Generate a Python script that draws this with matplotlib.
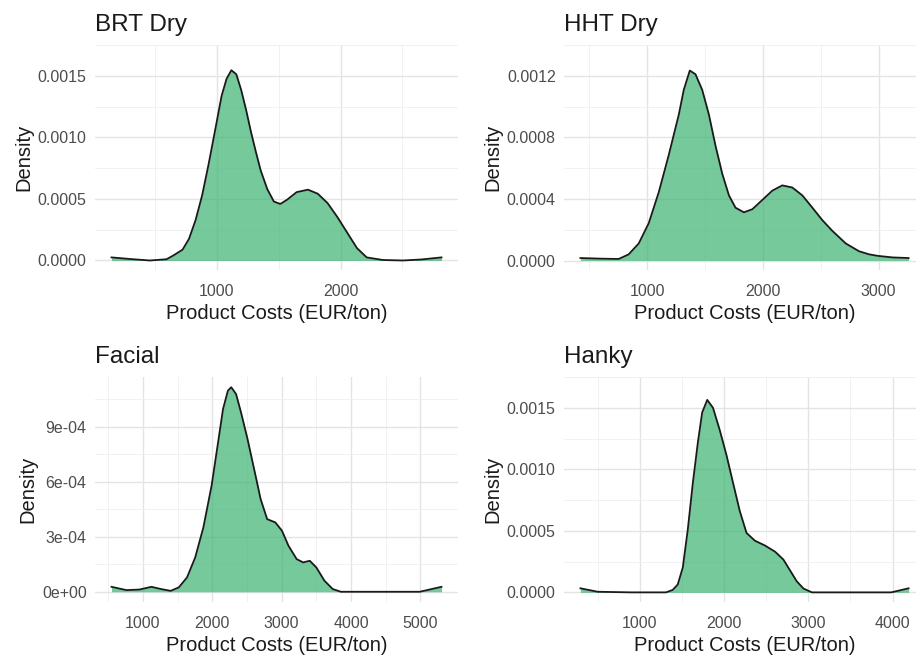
import matplotlib
matplotlib.use("Agg")
from matplotlib import pyplot as plt

plt.rcParams['font.family'] = ['Liberation Sans', 'DejaVu Sans']

panel_titles = ['BRT Dry', 'HHT Dry', 'Facial', 'Hanky']

# density curves (x in EUR/ton, y density)
brt_x = [150, 300, 460, 594, 645, 724, 776, 829, 882, 934, 987, 1039, 1079,
         1118, 1158, 1197, 1237, 1276, 1316, 1355, 1408, 1461, 1513, 1566,
         1645, 1737, 1816, 1895, 1974, 2053, 2132, 2211, 2341, 2503, 2650,
         2815]
brt_y = [0.000025, 0.000012, 0.0, 0.00001, 0.000038, 0.000088, 0.000176,
         0.000328, 0.000529, 0.000781, 0.001059, 0.001336, 0.001475,
         0.001545, 0.001512, 0.001386, 0.001223, 0.001046, 0.000882,
         0.000731, 0.00058, 0.000479, 0.000459, 0.000492, 0.000555,
         0.000575, 0.000542, 0.000466, 0.000353, 0.000227, 0.000101,
         0.000025, 0.000004, 0.0, 0.000008, 0.000025]

hht_x = [424, 600, 755, 841, 928, 1014, 1101, 1187, 1274, 1317, 1369, 1418,
         1476, 1534, 1591, 1649, 1707, 1764, 1836, 1909, 1995, 2082, 2168,
         2255, 2341, 2428, 2514, 2601, 2716, 2831, 2918, 2994, 3120, 3259]
hht_y = [0.000016, 0.000012, 0.00001, 0.00004, 0.000111, 0.000242,
         0.000444, 0.000685, 0.000948, 0.001109, 0.001234, 0.00121,
         0.001109, 0.000948, 0.000746, 0.000565, 0.000423, 0.000343,
         0.000313, 0.000333, 0.000393, 0.000454, 0.000488, 0.000474,
         0.000423, 0.000343, 0.000262, 0.000192, 0.000111, 0.00006,
         0.00004, 0.00003, 0.00002, 0.000016]

facial_x = [549, 765, 950, 1125, 1260, 1401, 1519, 1637, 1755, 1873, 1991,
            2085, 2156, 2226, 2274, 2344, 2415, 2509, 2604, 2698, 2792, 2910,
            3005, 3099, 3217, 3311, 3406, 3500, 3618, 3736, 3854, 4030, 4500,
            4991, 5304]
facial_y = [0.000027, 0.000009, 0.000012, 0.000027, 0.000015, 0.000005,
            0.000024, 0.000078, 0.000187, 0.000351, 0.000578, 0.000815,
            0.000996, 0.001096, 0.001115, 0.001078, 0.000978, 0.000833,
            0.000669, 0.000505, 0.000396, 0.000378, 0.000333, 0.000251,
            0.000178, 0.00016, 0.000169, 0.000133, 0.00006, 0.000015, 0.0,
            0.0, 0.0, 0.0, 0.000027]

hanky_x = [296, 501, 900, 1312, 1391, 1451, 1511, 1570, 1630, 1690, 1741,
           1801, 1869, 1948, 2028, 2107, 2187, 2267, 2366, 2485, 2605, 2704,
           2784, 2864, 2943, 3043, 3500, 3984, 4190]
hanky_y = [0.000033, 0.000005, 0.0, 0.0, 0.00002, 0.000064, 0.000203,
           0.000509, 0.00089, 0.00122, 0.001462, 0.001564, 0.0015, 0.001322,
           0.001119, 0.00089, 0.000661, 0.000483, 0.00042, 0.000381,
           0.000331, 0.000267, 0.000178, 0.000089, 0.000031, 0.0, 0.0, 0.0,
           0.000033]

curves_x = [brt_x, hht_x, facial_x, hanky_x]
curves_y = [brt_y, hht_y, facial_y, hanky_y]

x_major = [[1000, 2000], [1000, 2000, 3000],
           [1000, 2000, 3000, 4000, 5000], [1000, 2000, 3000, 4000]]
x_minor = [[500, 1500, 2500], [500, 1500, 2500],
           [500, 1500, 2500, 3500, 4500], [500, 1500, 2500, 3500]]
y_major = [[0, 0.0005, 0.0010, 0.0015], [0, 0.0004, 0.0008, 0.0012],
           [0, 0.0003, 0.0006, 0.0009], [0, 0.0005, 0.0010, 0.0015]]
y_labels = [['0.0000', '0.0005', '0.0010', '0.0015'],
            ['0.0000', '0.0004', '0.0008', '0.0012'],
            ['0e+00', '3e-04', '6e-04', '9e-04'],
            ['0.0000', '0.0005', '0.0010', '0.0015']]

fig = plt.figure(figsize=(9.16, 6.56), dpi=100)
W, H = 916, 656
# axes boxes in pixels: left, top, right, bottom
boxes = [(95, 45, 458, 270), (564, 45, 925, 270),
         (95, 377, 458, 602), (564, 377, 925, 602)]

for i, (l, t, r, b) in enumerate(boxes):
    ax = fig.add_axes([l / W, 1 - b / H, (r - l) / W, (b - t) / H])
    xs, ys = curves_x[i], curves_y[i]
    ax.fill_between(xs, ys, 0, color='mediumseagreen', alpha=0.7, lw=0)
    ax.plot(xs, ys, color='#1a1a1a', lw=1.3, solid_joinstyle='round')

    xpad = 0.05 * (max(xs) - min(xs))
    ax.set_xlim(min(xs) - xpad, max(xs) + xpad)
    ypad = 0.05 * max(ys)
    ax.set_ylim(-ypad, max(ys) + ypad)

    ax.set_xticks(x_major[i])
    ax.set_xticks(x_minor[i], minor=True)
    ax.set_yticks(y_major[i])
    ax.set_yticklabels(y_labels[i])
    step = y_major[i][1]
    ax.set_yticks([v + step / 2 for v in y_major[i]], minor=True)

    ax.grid(which='major', color='#e4e4e4', lw=1.0)
    ax.grid(which='minor', color='#efefef', lw=0.6)
    ax.set_axisbelow(True)
    for s in ax.spines.values():
        s.set_visible(False)
    ax.tick_params(which='both', length=0)
    ax.tick_params(axis='both', labelsize=11.5, labelcolor='#4d4d4d')
    ax.tick_params(axis='x', pad=10)
    ax.tick_params(axis='y', pad=6)

    ax.set_xlabel('Product Costs (EUR/ton)', fontsize=14.5, color='#1a1a1a',
                  labelpad=4)
    ax.set_ylabel('Density', fontsize=14.5, color='#1a1a1a', labelpad=3)
    ax.set_title(panel_titles[i], loc='left', fontsize=17.5, color='#1a1a1a',
                 pad=10)

fig.savefig('out.png', dpi=100)
